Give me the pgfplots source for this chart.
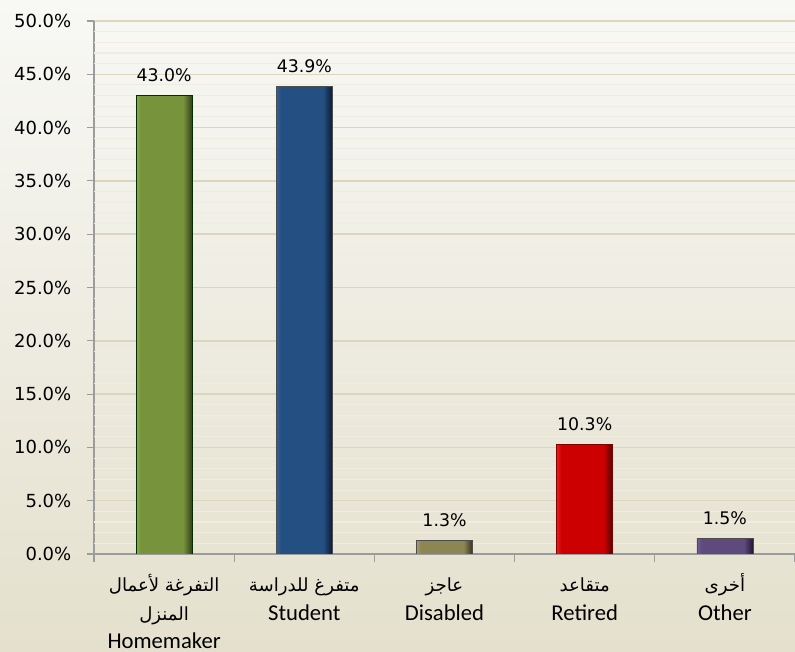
\documentclass[border=0pt]{standalone}
\usepackage{pgfplots}
\pgfplotsset{compat=1.18}
\usepackage{fontspec}
\setmainfont{Carlito}
\newfontfamily\numfont{DejaVu Sans}
\newfontfamily\arabicfont[Script=Arabic,Scale=0.8]{DejaVu Sans}
\TeXXeTstate=1
\newcommand\xlabfont{\fontsize{17}{21.5}\selectfont\lineskiplimit=-20pt\relax}
\newcommand\st{\rule{0pt}{15pt}}
\definecolor{bgtop}{HTML}{F8F8F5}
\definecolor{bgbot}{HTML}{E4E0CD}
\definecolor{majgrid}{HTML}{DCD6BE}
\definecolor{mingrid}{HTML}{EFECE1}
\definecolor{axgray}{HTML}{9C9C9C}
\pgfdeclarehorizontalshading{greenbar}{100bp}{rgb(0bp)=(0.55,0.67,0.30); rgb(25bp)=(0.55,0.67,0.30); rgb(29bp)=(0.467,0.576,0.235); rgb(67bp)=(0.467,0.576,0.235); rgb(75bp)=(0.2,0.25,0.1); rgb(100bp)=(0.2,0.25,0.1)}
\pgfdeclarehorizontalshading{bluebar}{100bp}{rgb(0bp)=(0.2,0.38,0.6); rgb(25bp)=(0.2,0.38,0.6); rgb(29bp)=(0.14,0.31,0.51); rgb(67bp)=(0.14,0.31,0.51); rgb(75bp)=(0.05,0.1,0.18); rgb(100bp)=(0.05,0.1,0.18)}
\pgfdeclarehorizontalshading{khakibar}{100bp}{rgb(0bp)=(0.64,0.61,0.41); rgb(25bp)=(0.64,0.61,0.41); rgb(29bp)=(0.55,0.52,0.33); rgb(67bp)=(0.55,0.52,0.33); rgb(75bp)=(0.22,0.2,0.11); rgb(100bp)=(0.22,0.2,0.11)}
\pgfdeclarehorizontalshading{redbar}{100bp}{rgb(0bp)=(0.9,0.12,0.12); rgb(25bp)=(0.9,0.12,0.12); rgb(29bp)=(0.8,0,0); rgb(67bp)=(0.8,0,0); rgb(75bp)=(0.3,0,0); rgb(100bp)=(0.3,0,0)}
\pgfdeclarehorizontalshading{purplebar}{100bp}{rgb(0bp)=(0.46,0.37,0.6); rgb(25bp)=(0.46,0.37,0.6); rgb(29bp)=(0.37,0.29,0.49); rgb(67bp)=(0.37,0.29,0.49); rgb(75bp)=(0.13,0.09,0.2); rgb(100bp)=(0.13,0.09,0.2)}
\begin{document}
\begin{tikzpicture}
\path[use as bounding box] (-70.5pt,-73.5pt) rectangle (525.75pt,415.5pt);
\shade[top color=bgtop, bottom color=bgbot] (-70.5pt,-73.5pt) rectangle (525.75pt,415.5pt);
\begin{axis}[
  at={(0,0)}, anchor=south west,
  scale only axis, width=525.75pt, height=399.75pt,
  xmin=-0.5, xmax=4.5, ymin=0, ymax=50,
  axis lines*=left,
  axis line style={axgray, line width=1pt},
  tick align=outside, tick pos=left,
  major tick length=5.5pt,
  every tick/.style={axgray, line width=0.8pt},
  xtick={0,1,2,3,4},
  xtick style={draw=none},
  xticklabels={
    {\st{\arabicfont\beginR التفرغة لأعمال\endR}\\{\arabicfont\beginR المنزل\endR}\\Homemaker},
    {\st{\arabicfont\beginR متفرغ للدراسة\endR}\\Student},
    {\st{\arabicfont\beginR عاجز\endR}\\Disabled},
    {\st{\arabicfont\beginR متقاعد\endR}\\Retired},
    {\st{\arabicfont\beginR أخرى\endR}\\Other}},
  x tick label style={align=center, font=\xlabfont, yshift=-4pt},
  extra x ticks={-0.5,0.5,1.5,2.5,3.5,4.5},
  extra x tick labels={},
  extra x tick style={xtick style={draw=axgray}, major tick length=6pt},
  ytick={0,5,...,50},
  ymajorgrids,
  major grid style={majgrid, line width=1.1pt},
  extra y ticks={1,2,3,4,6,7,8,9,11,12,13,14,16,17,18,19,21,22,23,24,26,27,28,29,31,32,33,34,36,37,38,39,41,42,43,44,46,47,48,49},
  extra y tick labels={},
  extra y tick style={major tick length=0pt, major grid style={mingrid, line width=0.8pt}},
  /pgf/number format/assume math mode=true,
  yticklabel={\pgfmathprintnumber[fixed,fixed zerofill,precision=1]{\tick}\%},
  y tick label style={font=\numfont\fontsize{13.5}{15}\selectfont, xshift=-8pt},
  ybar, bar width=0.4,
  nodes near coords={\pgfmathprintnumber[fixed,fixed zerofill,precision=1]{\pgfplotspointmeta}\%},
  every node near coord/.append style={font=\numfont\fontsize{13}{15}\selectfont, anchor=base, inner sep=0pt, yshift=10.5pt, text=black},
]
\addplot[bar shift=0pt, shading=greenbar, shade, draw=black!40!green!30!black, line width=0.5pt] coordinates {(0,43.0)};
\addplot[bar shift=0pt, shading=bluebar, shade, draw=black!70, line width=0.5pt] coordinates {(1,43.9)};
\addplot[bar shift=0pt, shading=khakibar, shade, draw=black!70, line width=0.5pt] coordinates {(2,1.3)};
\addplot[bar shift=0pt, shading=redbar, shade, draw=red!50!black, line width=0.5pt] coordinates {(3,10.3)};
\addplot[bar shift=0pt, shading=purplebar, shade, draw=black!70, line width=0.5pt] coordinates {(4,1.5)};
\end{axis}
\end{tikzpicture}
\end{document}
